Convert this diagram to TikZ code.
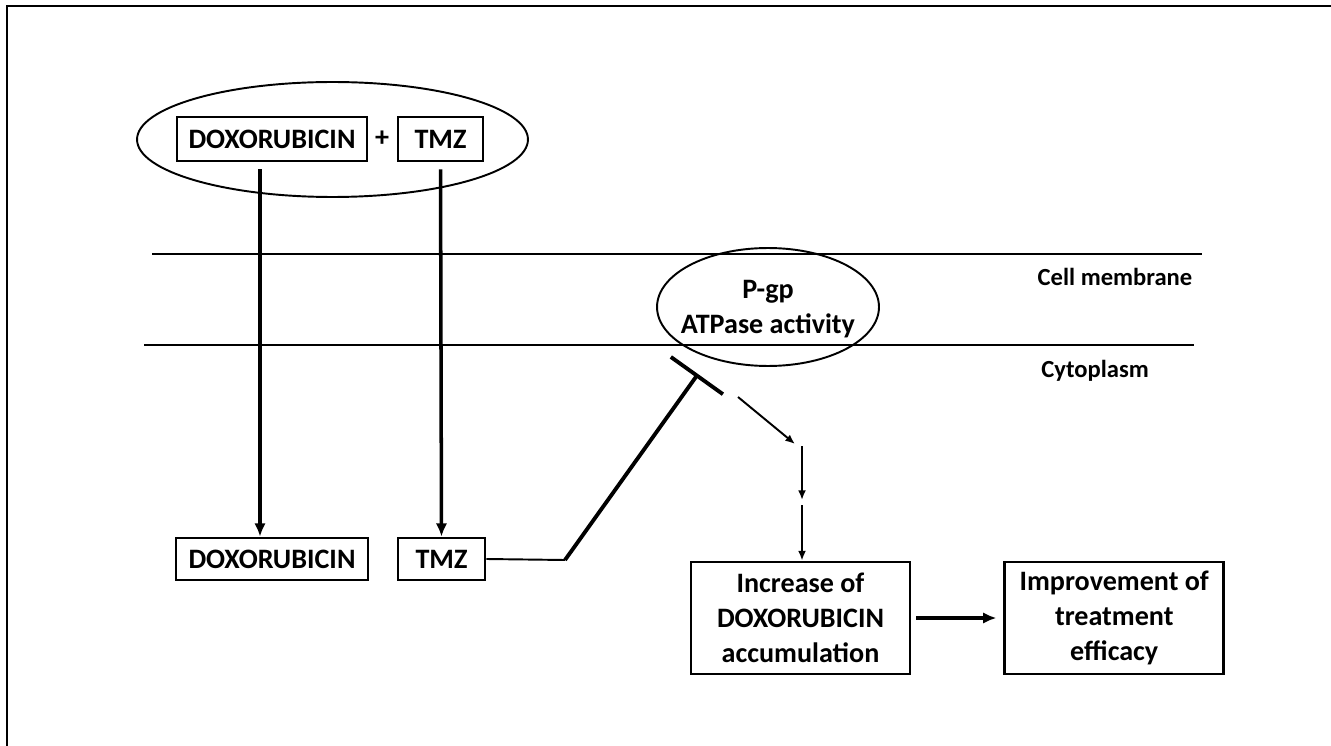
\documentclass[tikz,border=0pt]{standalone}
\usepackage{fontspec}
\setmainfont{Carlito}
\usetikzlibrary{arrows.meta,positioning,shapes.geometric}

\begin{document}
\begin{tikzpicture}[x=0.02cm, y=-0.02cm, font=\fontsize{16}{20}\selectfont\bfseries]
    \tikzstyle{box}=[rectangle, draw=black, line width=1.6pt, align=center, inner sep=0pt]
    \tikzstyle{oval}=[ellipse, draw=black, line width=1.1pt, align=center, inner sep=0pt]
    \tikzstyle{connect}=[-{Latex[length=7.5pt,width=6.5pt]}, line width=2pt]
    \tikzstyle{thin connect}=[-{Latex[length=5.5pt,width=4.5pt]}, line width=1.1pt]
    \tikzstyle{layer}=[line width=1.1pt]
    \tikzstyle{side}=[font=\fontsize{14}{17}\selectfont\bfseries]

    \useasboundingbox (0,0) rectangle (1331,746);
    \draw[line width=1.7pt] (7,746) -- (7,6) -- (1331,6);

    % drugs given together
    \node[oval, minimum width=7.82cm, minimum height=2.3cm] (combo) at (332.5,139.5) {};
    \node[box, minimum width=3.8cm, minimum height=0.88cm] (doxtop) at (272,139) {DOXORUBICIN};
    \node[box, minimum width=1.7cm, minimum height=0.88cm] (tmztop) at (440.5,139) {TMZ};
    \node (plus) at (382,139) {+};

    % membrane
    \draw[layer] (152,254) -- (1202,254);
    \draw[layer] (144,345) -- (1194,345);
    \node[side] (membrane) at (1115,277) {Cell membrane};
    \node[side] (cyto) at (1095,371) {Cytoplasm};
    \node[oval, minimum width=4.44cm, minimum height=2.36cm] (pgp) at (768,307) {};
    \node[align=center] (pgptext) at (768,309) {P-gp\\ATPase activity};

    % inside the cell
    \node[box, minimum width=3.84cm, minimum height=0.84cm] (doxin) at (272,559) {DOXORUBICIN};
    \node[box, minimum width=1.74cm, minimum height=0.84cm] (tmzin) at (441.5,559) {TMZ};
    \node[box, minimum width=4.38cm, minimum height=2.24cm] (accum) at (800.5,618) {Increase of\\DOXORUBICIN\\accumulation};
    \node[box, minimum width=4.38cm, minimum height=2.24cm, right=1.84cm of accum] (efficacy) {Improvement of\\treatment\\efficacy};

    \coordinate (doxout) at ([xshift=-0.24cm]doxtop.south);
    \coordinate (kink) at (565,560);
    \coordinate (block) at (698,374);
    \coordinate (relief) at (738,397);
    \coordinate (turn) at (795,444);
    \coordinate (down1) at (802,446);
    \coordinate (down2) at (802,500);
    \coordinate (down3) at (802,505);

    \draw[connect, shorten <=0.14cm] (doxout) -- (doxout |- doxin.north);
    \draw[connect, shorten <=0.14cm] (tmztop.south) -- (tmzin.north);
    \draw[line width=1.1pt] (tmzin.east) -- (kink);
    \draw[line width=2.2pt, -{Bar[width=1.28cm]}] (kink) -- (block);
    \draw[thin connect] (relief) -- (turn);
    \draw[thin connect] (down1) -- (down2);
    \draw[thin connect] (down3) -- (down3 |- accum.north);
    \draw[connect, shorten <=0.1cm, shorten >=0.14cm] (accum.east) -- (efficacy.west);
\end{tikzpicture}
\end{document}
